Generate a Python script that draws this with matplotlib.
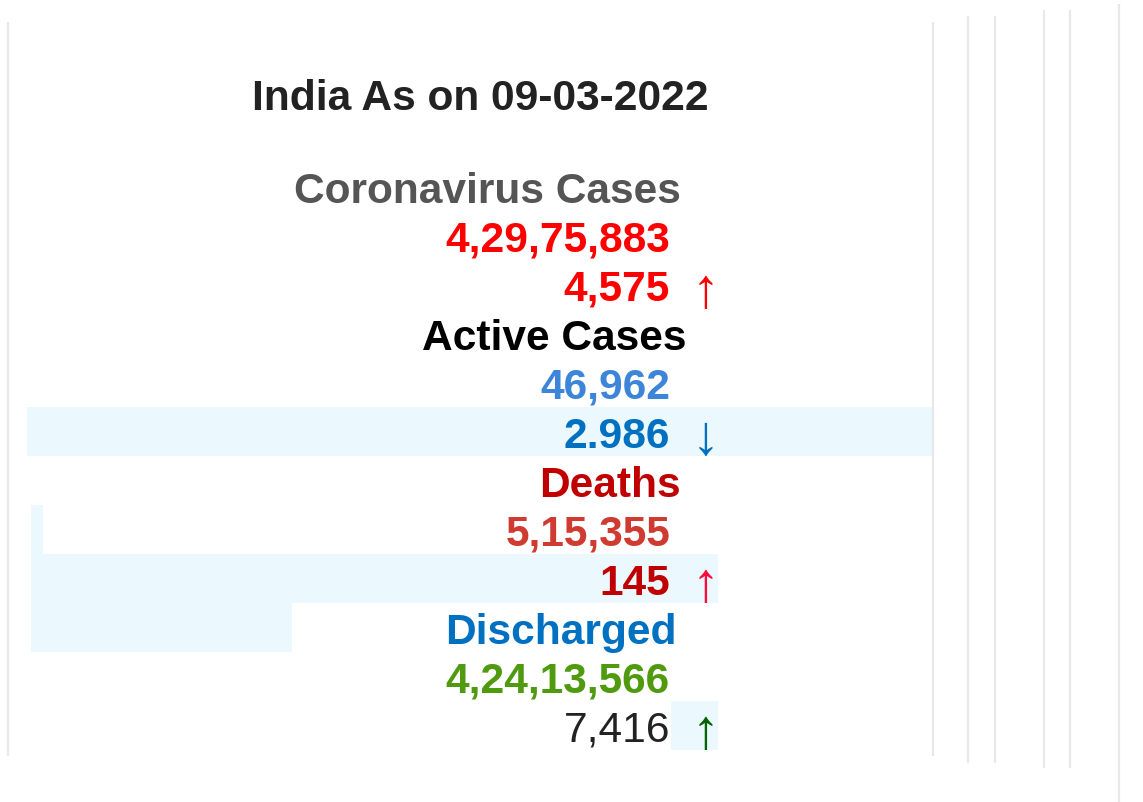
from matplotlib import pyplot as plt
from matplotlib.patches import Rectangle

# summary values shown in the card
country = "India"
report_date = "09-03-2022"
categories = ["Coronavirus Cases", "Active Cases", "Deaths", "Discharged"]
totals = ["4,29,75,883", "46,962", "5,15,355", "4,24,13,566"]
changes = ["4,575", "2.986", "145", "7,416"]
directions = ["up", "down", "up", "up"]

# styles per category
label_colors = ["#555555", "#000000", "#c00000", "#0070c0"]
total_colors = ["#ff0000", "#3d85d8", "#cf3b31", "#4f9a0f"]
change_colors = ["#ff0000", "#0070c0", "#c00000", "#222222"]
change_weights = ["bold", "bold", "bold", "normal"]
arrow_colors = ["#ff0000", "#0070c0", "#ff0a3a", "#006400"]
label_right = [681, 687, 681, 677]

fig = plt.figure(figsize=(11.43, 8.03), dpi=100)
ax = fig.add_axes([0, 0, 1, 1])
ax.set_xlim(0, 1143)
ax.set_ylim(803, 0)
ax.axis('off')

font = 'Liberation Sans'
fs = 30.6
hl = '#ebf8fd'

# row baselines in pixels
base0 = 203
step = 49
def row_base(k):
    return base0 + step * k

# light blue highlight blocks (row index, x0, x1)
blocks = [(5, 27, 933), (7, 31, 43), (8, 31, 718), (9, 31, 292), (11, 671, 718)]
for k, x0, x1 in blocks:
    top = row_base(k) - 40
    ax.add_patch(Rectangle((x0, top), x1 - x0, step, facecolor=hl, edgecolor='none', zorder=1))

# thin grey vertical rules
rules = [(8, 23, 757), (933, 23, 757), (968, 17, 764), (995, 17, 764),
         (1044, 11, 769), (1070, 11, 769), (1119, 5, 803)]
for x, y0, y1 in rules:
    ax.vlines(x, y0, y1, color='#e8e8e8', linewidth=1.6, zorder=2)

ax.text(480, 110, country + " As on " + report_date, ha='center', va='baseline',
        fontsize=fs, fontweight='bold', family=font, color='#222222', zorder=3)

arrows = {"up": "\u2191", "down": "\u2193"}
for i, cat in enumerate(categories):
    k = 3 * i
    ax.text(label_right[i], row_base(k), cat, ha='right', va='baseline', fontsize=fs,
            fontweight='bold', family=font, color=label_colors[i], zorder=3)
    ax.text(670, row_base(k + 1), totals[i], ha='right', va='baseline', fontsize=fs,
            fontweight='bold', family=font, color=total_colors[i], zorder=3)
    ax.text(670, row_base(k + 2), changes[i], ha='right', va='baseline', fontsize=fs,
            fontweight=change_weights[i], family=font, color=change_colors[i], zorder=3)
    # arrows are drawn taller and thinner than the digits
    ax.text(705, row_base(k + 2) + 6, arrows[directions[i]], ha='center', va='baseline',
            fontsize=40, fontweight='light', family=font, color=arrow_colors[i], zorder=3)

fig.savefig('out.png', dpi=100, facecolor='white')
